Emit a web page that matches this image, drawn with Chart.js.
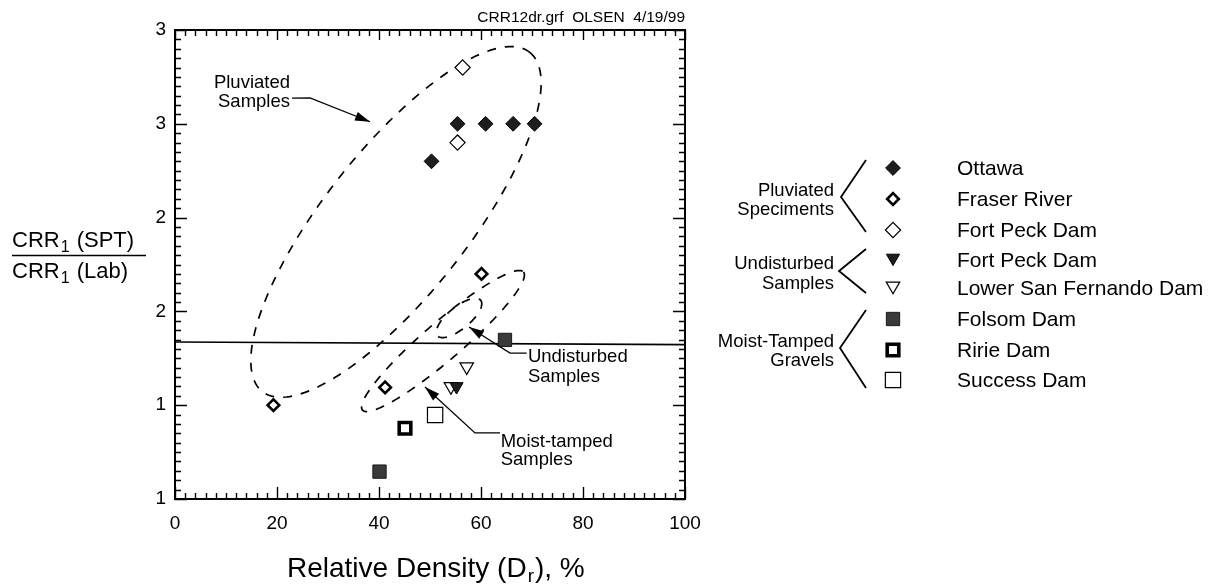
<!DOCTYPE html>
<html><head><meta charset="utf-8">
<script src="https://cdn.jsdelivr.net/npm/chart.js@4.4.1/dist/chart.umd.min.js"></script>
<style>html,body{margin:0;padding:0;background:#fff;}canvas{display:block;}</style>
</head><body>
<canvas id="c" width="1226" height="586"></canvas>
<script>
const FONT = "'Liberation Sans', Arial, Helvetica, sans-serif";

// ---- data ----
const seriesNames = ['Ottawa','Fraser River','Fort Peck Dam','Fort Peck Dam','Lower San Fernando Dam','Folsom Dam','Ririe Dam','Success Dam'];
const ottawaX   = [50.3, 55.4, 60.9, 66.3, 70.5];
const ottawaY   = [2.30, 2.50, 2.50, 2.50, 2.50];
const fraserX   = [19.3, 41.2, 60.1];
const fraserY   = [1.00, 1.095, 1.70];
const fortPeckPluvX = [56.4, 55.4];
const fortPeckPluvY = [2.80, 2.40];
const fortPeckUndX  = [55.2];
const fortPeckUndY  = [1.10];
const lsfX      = [54.1, 57.2];
const lsfY      = [1.10, 1.205];
const folsomX   = [40.1, 64.7];
const folsomY   = [0.646, 1.348];
const ririeX    = [45.1];
const ririeY    = [0.877];
const successX  = [51.0];
const successY  = [0.948];
const refLineX  = [0, 100];
const refLineY  = [1.337, 1.323];

const xTickValues = [0, 20, 40, 60, 80, 100];
const xTickLabels = ['0','20','40','60','80','100'];
const yTickValues = [0.5, 1, 1.5, 2, 2.5, 3];
const yTickLabels = ['1','1','2','2','3','3'];

// dashed envelopes: centre + two conjugate semi-diameters, in data units
const envCx = [43.33, 52.55, 55.69];
const envCy = [1.977, 1.342, 1.465];
const envAx = [26.22, 15.78, 4.25];
const envAy = [0.904, 0.368, 0.0943];
const envBx = [11.08, 2.43, 1.36];
const envBy = [-0.238, -0.0768, -0.0455];

// annotation labels (data units)
const noteText  = [['Pluviated','Samples'], ['Undisturbed','Samples'], ['Moist-tamped','Samples']];
const noteX     = [22.55, 69.2, 63.86];
const noteY1    = [2.693, 1.232, 0.779];
const noteY2    = [2.591, 1.125, 0.681];
const noteAlign = ['right','left','left'];
const leaderX   = [[22.94, 26.47, 38.24], [68.96, 65.69, 57.65], [63.73, 58.82, 49.02]];
const leaderY   = [[2.637, 2.638, 2.511], [1.278, 1.278, 1.417], [0.852, 0.852, 1.097]];

const groupLabels = [['Pluviated','Speciments'], ['Undisturbed','Samples'], ['Moist-Tamped','Gravels']];

const pts = (xs, ys) => xs.map((x, i) => ({x, y: ys[i]}));

const styles = [
  {pointStyle:'rectRot', radius:7.4, rotation:0,   bg:'#1e1e1e', bc:'#000', bw:1},
  {pointStyle:'rectRot', radius:5.8, rotation:0,   bg:'#fff',    bc:'#000', bw:2.6},
  {pointStyle:'rectRot', radius:7.6, rotation:0,   bg:'#fff',    bc:'#000', bw:1.2},
  {pointStyle:'triangle',radius:7.6, rotation:180, bg:'#1e1e1e', bc:'#000', bw:1},
  {pointStyle:'triangle',radius:7.8, rotation:180, bg:'#fff',    bc:'#000', bw:1.2},
  {pointStyle:'rect',    radius:9.4, rotation:0,   bg:'#3a3a3a', bc:'#1a1a1a', bw:1},
  {pointStyle:'rect',    radius:8.2, rotation:0,   bg:'#fff',    bc:'#000', bw:3.6},
  {pointStyle:'rect',    radius:10.8,rotation:0,   bg:'#fff',    bc:'#000', bw:1.2}
];
const seriesData = [
  pts(ottawaX, ottawaY), pts(fraserX, fraserY), pts(fortPeckPluvX, fortPeckPluvY),
  pts(fortPeckUndX, fortPeckUndY), pts(lsfX, lsfY), pts(folsomX, folsomY),
  pts(ririeX, ririeY), pts(successX, successY)
];

const datasets = seriesData.map((d, i) => ({
  label: seriesNames[i], data: d,
  pointStyle: styles[i].pointStyle, pointRadius: styles[i].radius, pointRotation: styles[i].rotation,
  pointBackgroundColor: styles[i].bg, pointBorderColor: styles[i].bc, pointBorderWidth: styles[i].bw,
  pointHoverRadius: styles[i].radius, showLine: false
}));
datasets.push({
  label: 'ref', data: pts(refLineX, refLineY), showLine: true, pointRadius: 0,
  borderColor: '#000', borderWidth: 1.6, fill: false
});

function drawMarker(ctx, s, x, y) {
  ctx.save();
  ctx.fillStyle = s.bg; ctx.strokeStyle = s.bc; ctx.lineWidth = s.bw;
  ctx.beginPath();
  const r = s.radius;
  if (s.pointStyle === 'rectRot') {
    ctx.moveTo(x - r, y); ctx.lineTo(x, y - r); ctx.lineTo(x + r, y); ctx.lineTo(x, y + r);
  } else if (s.pointStyle === 'triangle') {
    let rad = s.rotation * Math.PI / 180;
    ctx.moveTo(x + Math.sin(rad) * r, y - Math.cos(rad) * r);
    rad += 2 * Math.PI / 3;
    ctx.lineTo(x + Math.sin(rad) * r, y - Math.cos(rad) * r);
    rad += 2 * Math.PI / 3;
    ctx.lineTo(x + Math.sin(rad) * r, y - Math.cos(rad) * r);
  } else {
    const h = Math.SQRT1_2 * r;
    ctx.rect(x - h, y - h, 2 * h, 2 * h);
  }
  ctx.closePath(); ctx.fill(); ctx.stroke();
  ctx.restore();
}

const annot = {
  id: 'annot',
  beforeDatasetsDraw(chart) {
    const {ctx, scales: {x, y}} = chart;
    ctx.save();
    ctx.strokeStyle = '#000'; ctx.lineWidth = 1.7; ctx.setLineDash([9, 9]);
    for (let e = 0; e < envCx.length; e++) {
      ctx.beginPath();
      for (let k = 0; k <= 180; k++) {
        const t = k / 180 * Math.PI * 2;
        const px = x.getPixelForValue(envCx[e] + envAx[e] * Math.cos(t) + envBx[e] * Math.sin(t));
        const py = y.getPixelForValue(envCy[e] + envAy[e] * Math.cos(t) + envBy[e] * Math.sin(t));
        if (k === 0) ctx.moveTo(px, py); else ctx.lineTo(px, py);
      }
      ctx.stroke();
    }
    ctx.restore();
  },
  afterDatasetsDraw(chart) {
    const {ctx, chartArea: a, scales: {x, y}} = chart;
    ctx.save();
    // frame
    ctx.strokeStyle = '#000'; ctx.lineWidth = 2;
    ctx.strokeRect(a.left, a.top, a.right - a.left, a.bottom - a.top);
    // ticks
    ctx.lineWidth = 1.4;
    ctx.beginPath();
    for (let v = 0; v <= 100.001; v += 2) {
      const px = Math.round(x.getPixelForValue(v)) + 0.5;
      const major = Math.abs(v % 20) < 1e-6;
      ctx.moveTo(px, a.bottom); ctx.lineTo(px, a.bottom - (major ? 12 : 6));
      ctx.moveTo(px, a.top); ctx.lineTo(px, a.top + (major ? 10 : 6));
    }
    for (let i = 0; i <= 50; i++) {
      const v = 0.5 + i * 0.05;
      const py = Math.round(y.getPixelForValue(v)) + 0.5;
      const L = (i % 10 === 0) ? 12 : 6;
      ctx.moveTo(a.left, py); ctx.lineTo(a.left + L, py);
      ctx.moveTo(a.right, py); ctx.lineTo(a.right - L, py);
    }
    ctx.stroke();

    // leaders with arrowheads
    ctx.lineWidth = 1.3; ctx.fillStyle = '#000';
    for (let n = 0; n < leaderX.length; n++) {
      const P = leaderX[n].map((vx, i) => [x.getPixelForValue(vx), y.getPixelForValue(leaderY[n][i])]);
      ctx.beginPath();
      P.forEach((p, i) => i ? ctx.lineTo(p[0], p[1]) : ctx.moveTo(p[0], p[1]));
      ctx.stroke();
      const tip = P[P.length - 1], prev = P[P.length - 2];
      const ang = Math.atan2(tip[1] - prev[1], tip[0] - prev[0]);
      const hl = 15, hw = 4.5;
      ctx.beginPath();
      ctx.moveTo(tip[0], tip[1]);
      ctx.lineTo(tip[0] - hl * Math.cos(ang) - hw * Math.sin(ang), tip[1] - hl * Math.sin(ang) + hw * Math.cos(ang));
      ctx.lineTo(tip[0] - hl * Math.cos(ang) + hw * Math.sin(ang), tip[1] - hl * Math.sin(ang) - hw * Math.cos(ang));
      ctx.closePath(); ctx.fill();
    }
    // annotation texts
    ctx.fillStyle = '#000';
    ctx.font = '18.5px ' + FONT; ctx.textBaseline = 'alphabetic';
    for (let n = 0; n < noteText.length; n++) {
      ctx.textAlign = noteAlign[n];
      const px = x.getPixelForValue(noteX[n]);
      ctx.fillText(noteText[n][0], px, y.getPixelForValue(noteY1[n]));
      ctx.fillText(noteText[n][1], px, y.getPixelForValue(noteY2[n]));
    }
    // file tag
    ctx.font = '15.5px ' + FONT; ctx.textAlign = 'right';
    ctx.fillText('CRR12dr.grf  OLSEN  4/19/99', a.right, 22);

    // x title with subscript
    ctx.textAlign = 'left';
    const xt1 = 'Relative Density (D', xt2 = 'r', xt3 = '), %';
    ctx.font = '28px ' + FONT; const w1 = ctx.measureText(xt1).width, w3 = ctx.measureText(xt3).width;
    ctx.font = '19px ' + FONT; const w2 = ctx.measureText(xt2).width;
    let sx = 287;
    const by = 577;
    ctx.font = '28px ' + FONT; ctx.fillText(xt1, sx, by); sx += w1;
    ctx.font = '19px ' + FONT; ctx.fillText(xt2, sx + 1, by + 5); sx += w2 + 2;
    ctx.font = '28px ' + FONT; ctx.fillText(xt3, sx, by);

    // y title as fraction
    const drawCRR = (rest, bx, bline) => {
      ctx.font = '22px ' + FONT; ctx.fillText('CRR', bx, bline);
      let cx = bx + ctx.measureText('CRR').width;
      ctx.font = '16px ' + FONT; ctx.fillText('1', cx + 1, bline + 5);
      cx += ctx.measureText('1').width + 2;
      ctx.font = '22px ' + FONT; ctx.fillText(rest, cx, bline);
    };
    drawCRR(' (SPT)', 12, 247);
    drawCRR(' (Lab)', 12, 278);
    ctx.lineWidth = 1.5; ctx.beginPath(); ctx.moveTo(12, 255.5); ctx.lineTo(146, 255.5); ctx.stroke();

    // legend
    const mx = 893, tx = 957;
    const rowY = [168, 199, 230, 260, 288, 319, 350, 380];
    ctx.font = '21px ' + FONT; ctx.textAlign = 'left'; ctx.textBaseline = 'middle';
    seriesNames.forEach((nm, i) => {
      drawMarker(ctx, styles[i], mx, rowY[i] + (styles[i].pointStyle === 'triangle' ? -2 : 0));
      ctx.fillStyle = '#000'; ctx.fillText(nm, tx, rowY[i] + 1);
    });
    const brTop = [160, 249, 310], brBot = [232, 293, 388], brVx = [841, 839, 840], brVy = [197, 271, 348];
    const glY1 = [191, 264, 342], glY2 = [210, 284, 361];
    ctx.lineWidth = 1.8; ctx.strokeStyle = '#000';
    ctx.font = '18.5px ' + FONT; ctx.textAlign = 'right';
    for (let g = 0; g < 3; g++) {
      ctx.beginPath(); ctx.moveTo(866, brTop[g]); ctx.lineTo(brVx[g], brVy[g]); ctx.lineTo(866, brBot[g]); ctx.stroke();
      ctx.fillText(groupLabels[g][0], 834, glY1[g]);
      ctx.fillText(groupLabels[g][1], 834, glY2[g]);
    }
    ctx.restore();
  }
};

new Chart(document.getElementById('c'), {
  type: 'scatter',
  data: { datasets },
  options: {
    responsive: false, animation: false, devicePixelRatio: 1,
    layout: { padding: { left: 0, right: 541, top: 30, bottom: 0 } },
    plugins: { legend: { display: false }, tooltip: { enabled: false } },
    scales: {
      x: {
        type: 'linear', min: 0, max: 100,
        afterFit(s) { s.height = 87; },
        afterBuildTicks(s) { s.ticks = xTickValues.map(v => ({value: v})); },
        ticks: { padding: 13, color: '#000', font: { size: 19, family: FONT },
                 callback: (v) => { const i = xTickValues.indexOf(v); return i >= 0 ? xTickLabels[i] : ''; } },
        grid: { display: false, drawTicks: false }, border: { display: false }
      },
      y: {
        type: 'linear', min: 0.5, max: 3,
        afterFit(s) { s.width = 175; },
        afterBuildTicks(s) { s.ticks = yTickValues.map(v => ({value: v})); },
        ticks: { padding: 9, color: '#000', font: { size: 19, family: FONT },
                 callback: (v) => { const i = yTickValues.findIndex(t => Math.abs(t - v) < 1e-6); return i >= 0 ? yTickLabels[i] : ''; } },
        grid: { display: false, drawTicks: false }, border: { display: false }
      }
    }
  },
  plugins: [annot]
});
</script>
</body></html>
